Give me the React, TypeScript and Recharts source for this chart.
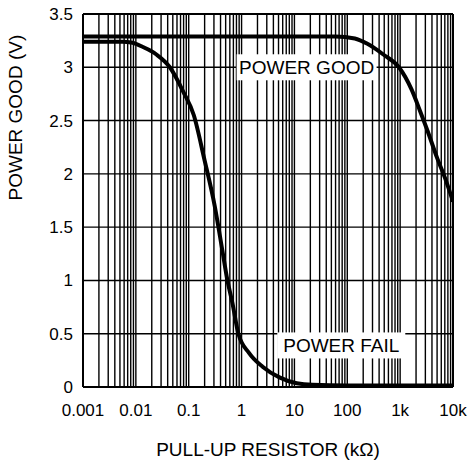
import { LineChart, Line, XAxis, YAxis, CartesianGrid, ReferenceDot, ReferenceLine } from 'recharts'

// x: pull-up resistor (kΩ), y: power good output (V)
const majorTicks = [0.001, 0.01, 0.1, 1, 10, 100, 1000, 10000]
const majorLabels = ['0.001', '0.01', '0.1', '1', '10', '100', '1k', '10k']
const minorSteps = [2, 3, 4, 5, 6, 7, 8, 9]
const yTicks = [0, 0.5, 1, 1.5, 2, 2.5, 3, 3.5]

const goodR = [0.001, 10, 60, 139, 240, 480, 950, 1650, 2340, 3320, 5000, 7080, 10000]
const goodV = [3.29, 3.29, 3.29, 3.27, 3.22, 3.12, 3.0, 2.79, 2.6, 2.4, 2.15, 1.96, 1.74]

const failR = [
  0.001, 0.0055, 0.0087, 0.0136, 0.0245, 0.044, 0.079, 0.125, 0.197, 0.31, 0.43, 0.54,
  0.67, 0.87, 1.38, 2.5, 5.2, 11, 22, 100, 1000, 10000,
]
const failV = [
  3.24, 3.24, 3.23, 3.19, 3.12, 3.0, 2.77, 2.55, 2.14, 1.7, 1.29, 1.0, 0.79, 0.5, 0.32,
  0.19, 0.09, 0.035, 0.02, 0.015, 0.015, 0.015,
]

const labels = [
  { text: 'POWER GOOD', r: 17, v: 3.0, w: 140 },
  { text: 'POWER FAIL', r: 77, v: 0.39, w: 128 },
]

const goodData = goodR.map((r, i) => ({ r, v: goodV[i] }))
const failData = failR.map((r, i) => ({ r, v: failV[i] }))

// every 1..9 step of each decade, for the log grid
const gridTicks = majorTicks.flatMap((m) => (m === 10000 ? [m] : [m, ...minorSteps.map((k) => m * k)]))

const FONT = '"Liberation Sans", Arial, sans-serif'

function formatX(v: number) {
  const i = majorTicks.findIndex((m) => Math.abs(v / m - 1) < 1e-6)
  return i >= 0 ? majorLabels[i] : ''
}

function boxLabel(text: string, w: number) {
  return (p: any) => (
    <g>
      <rect x={p.cx - w / 2} y={p.cy - 13} width={w} height={26} fill="#fff" />
      <text
        x={p.cx}
        y={p.cy}
        textAnchor="middle"
        dominantBaseline="central"
        fontSize={19}
        fontFamily={FONT}
        fill="#000"
      >
        {text}
      </text>
    </g>
  )
}

export default function App() {
  return (
    <div style={{ width: 470, height: 470, background: '#fff' }}>
      <style>{'body{margin:0}'}</style>
      <LineChart
        width={470}
        height={470}
        margin={{ top: 14, right: 17, bottom: 0, left: 0 }}
        style={{ fontFamily: FONT }}
      >
        <CartesianGrid stroke="#000" strokeWidth={1.4} />
        <XAxis
          dataKey="r"
          type="number"
          scale="log"
          domain={[0.001, 10000]}
          ticks={gridTicks}
          interval={0}
          tickFormatter={formatX}
          tickLine={false}
          tickSize={10}
          tickMargin={7}
          height={83}
          axisLine={{ stroke: '#000', strokeWidth: 2 }}
          tick={{ fill: '#000', fontSize: 17 }}
          allowDataOverflow
          label={{ value: 'PULL-UP RESISTOR (kΩ)', position: 'insideBottom', offset: 14, fill: '#000', fontSize: 19 }}
        />
        <YAxis
          type="number"
          domain={[0, 3.5]}
          ticks={yTicks}
          interval={0}
          width={83}
          tickLine={false}
          tickSize={8}
          tickMargin={2}
          axisLine={{ stroke: '#000', strokeWidth: 2 }}
          tick={{ fill: '#000', fontSize: 17 }}
          label={{ value: 'POWER GOOD (V)', angle: -90, position: 'insideLeft', offset: 15, fill: '#000', fontSize: 19 }}
        />
        <ReferenceLine y={3.5} stroke="#000" strokeWidth={2} />
        <ReferenceLine x={10000} stroke="#000" strokeWidth={2} />
        <Line
          data={goodData}
          dataKey="v"
          type="monotone"
          stroke="#000"
          strokeWidth={4}
          dot={false}
          isAnimationActive={false}
        />
        <Line
          data={failData}
          dataKey="v"
          type="monotone"
          stroke="#000"
          strokeWidth={4}
          dot={false}
          isAnimationActive={false}
        />
        {labels.map((l) => (
          <ReferenceDot key={l.text} x={l.r} y={l.v} r={0} shape={boxLabel(l.text, l.w)} />
        ))}
      </LineChart>
    </div>
  )
}
